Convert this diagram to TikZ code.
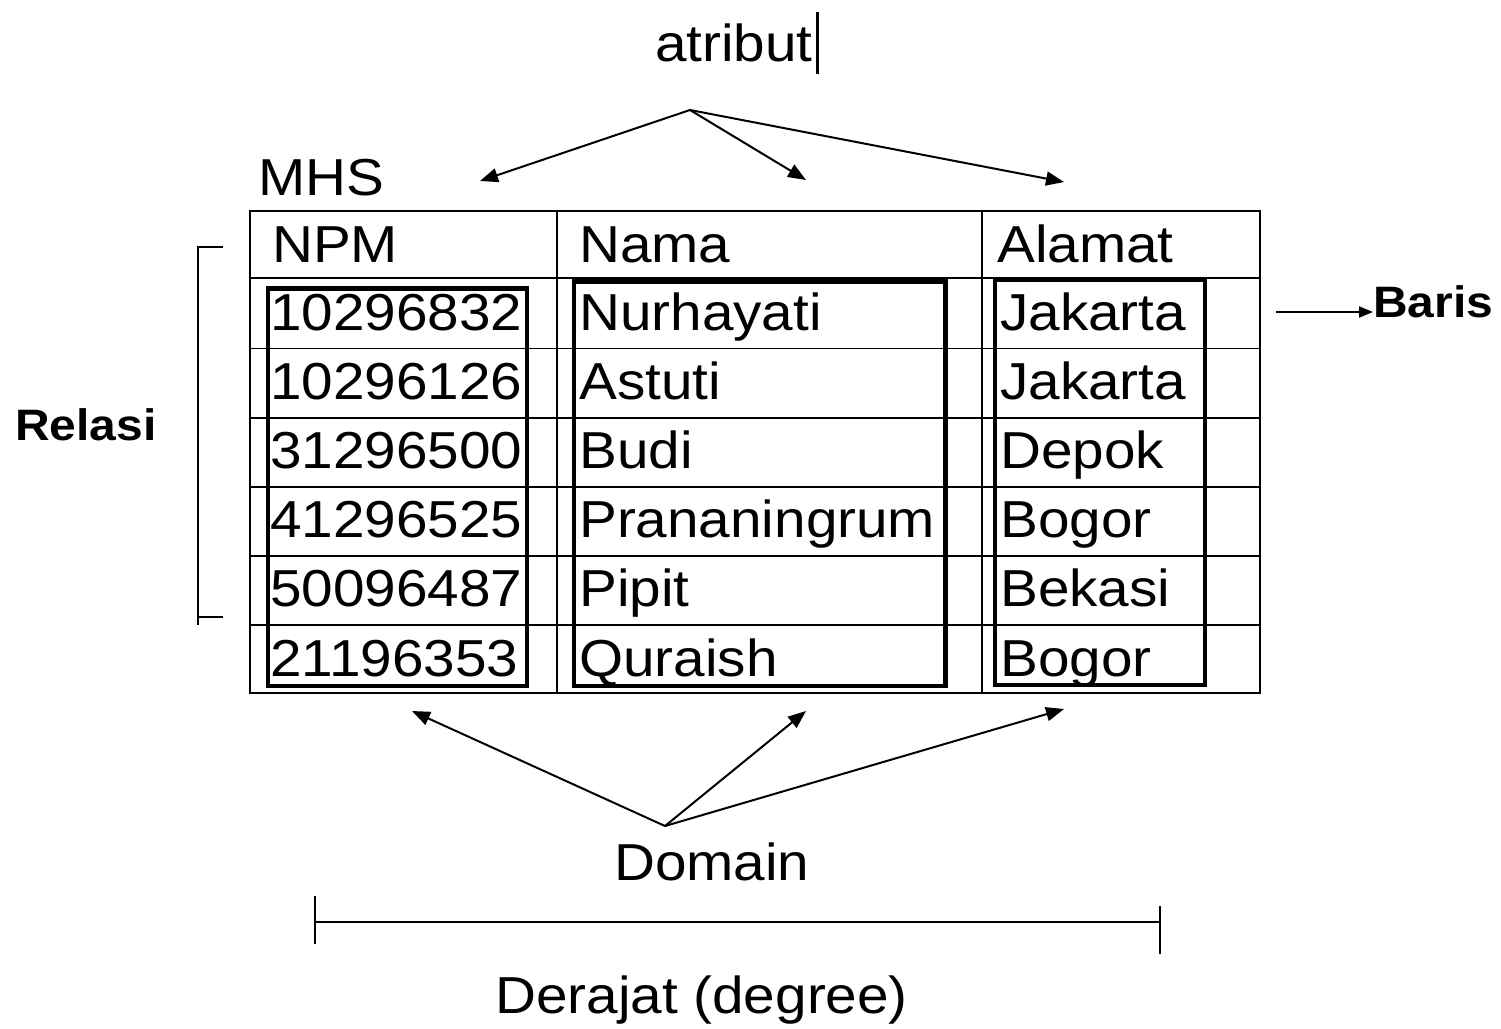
\documentclass[tikz,border=0pt]{standalone}
\usepackage{fontspec}
\setmainfont[FakeStretch=1.09]{Liberation Sans}
\usetikzlibrary{arrows.meta}
\begin{document}
\begin{tikzpicture}[x=1pt,y=-1pt,
  txt/.style={inner sep=0pt, anchor=base west, font=\fontsize{52}{60}\selectfont},
  lbl/.style={inner sep=0pt, anchor=base west, font=\fontsize{44}{52}\selectfont\bfseries},
  gridline/.style={line width=1.8pt},
  colbox/.style={line width=4.5pt},
  ptr/.style={line width=2pt, -{Triangle[length=18pt,width=14pt]}},
  smallptr/.style={line width=2pt, -{Triangle[length=14pt,width=11pt]}},
  brace/.style={line width=2pt}
]
\useasboundingbox (0,0) rectangle (1501,1028);

% table grid
\draw[gridline] (250,211) rectangle (1260,693);
\foreach \yy in {278,348.5,418,487,556,625}
  \draw[gridline] (250,\yy) -- (1260,\yy);
\foreach \xx in {557,982}
  \draw[gridline] (\xx,211) -- (\xx,693);

% relation name and headers
\node[txt] (mhs) at (258,195) {MHS};
\node[txt] (hnpm) at (272,262) {NPM};
\node[txt] (hnama) at (579,262) {Nama};
\node[txt] (halamat) at (997,262) {Alamat};

% tuples
\foreach \n/\nm/\al [count=\i from 0] in
  {10296832/Nurhayati/Jakarta,
   10296126/Astuti/Jakarta,
   31296500/Budi/Depok,
   41296525/Prananingrum/Bogor,
   50096487/Pipit/Bekasi,
   21196353/Quraish/Bogor}{
  \node[txt] (npm\i) at (270,{330+69.2*\i}) {\n};
  \node[txt] (nama\i) at (579,{330+69.2*\i}) {\nm};
  \node[txt] (alamat\i) at (1000,{330+69.2*\i}) {\al};
}

% domain boxes around each column
\draw[colbox] (268,288.5) rectangle (527,686);
\draw[colbox] (574,281.5) rectangle (945.5,686);
\draw[colbox] (995,280) rectangle (1205,685);

% attribute pointers
\node[txt] (atribut) at (655,61) {atribut};
\draw[line width=3pt] (817,12) -- (817,74);
\coordinate (asrc) at (690,110);
\coordinate (a1) at (480,181);
\coordinate (a2) at (806,180);
\coordinate (a3) at (1064,182);
\draw[ptr] (asrc) -- (a1);
\draw[ptr] (asrc) -- (a2);
\draw[ptr] (asrc) -- (a3);

% tuple pointer
\node[lbl] (baris) at (1373,317) {Baris};
\coordinate (bsrc) at (1276,312);
\draw[smallptr] (bsrc) -- (baris.west |- bsrc);

% relation bracket
\node[lbl] (relasi) at (15,440) {Relasi};
\draw[brace] (223,247) -- (198,247) -- (198,625);
\draw[brace] (198,617) -- (223,617);

% domain pointers
\node[txt] (domain) at (614,880) {Domain};
\coordinate (dsrc) at (665,826);
\coordinate (d1) at (412,711);
\coordinate (d2) at (806,711);
\coordinate (d3) at (1064,709);
\draw[ptr] (dsrc) -- (d1);
\draw[ptr] (dsrc) -- (d2);
\draw[ptr] (dsrc) -- (d3);

% degree span
\coordinate (gl) at (315,922);
\coordinate (gr) at (1160,922);
\draw[brace] (gl) -- (gr);
\draw[brace] (315,896) -- (315,944);
\draw[brace] (1160,906) -- (1160,954);
\node[txt] (derajat) at (495,1013) {Derajat (degree)};
\end{tikzpicture}
\end{document}
